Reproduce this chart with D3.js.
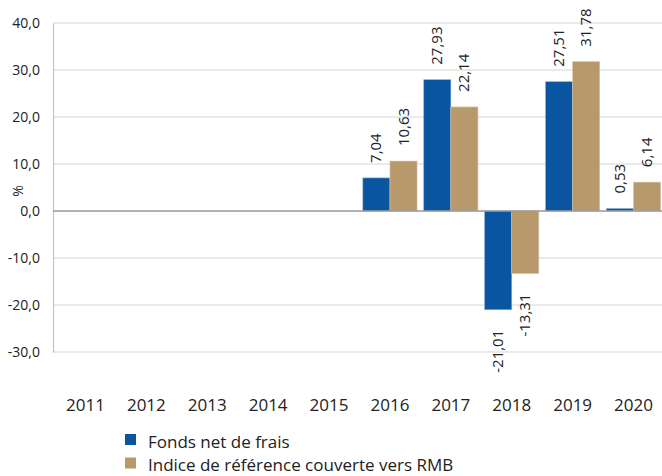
<!DOCTYPE html>
<html>
<head>
<meta charset="utf-8">
<script src="https://cdn.jsdelivr.net/npm/d3@7"></script>
<style>
  body { margin: 0; background: #fff; }
  text { font-family: "Open Sans", sans-serif; fill: #222; }
</style>
</head>
<body>
<div id="chart"></div>
<script>
// donnees
var years = ["2011", "2012", "2013", "2014", "2015", "2016", "2017", "2018", "2019", "2020"];
var seriesNames = ["Fonds net de frais", "Indice de référence couverte vers RMB"];
var fonds = [null, null, null, null, null, 7.04, 27.93, -21.01, 27.51, 0.53];
var indice = [null, null, null, null, null, 10.63, 22.14, -13.31, 31.78, 6.14];
var yTicks = [-30, -20, -10, 0, 10, 20, 30, 40];
var colors = ["#0A559F", "#B8996B"];

var w = 662, h = 476;

var svg = d3.select("#chart").append("svg")
    .attr("width", w)
    .attr("height", h);

var x = d3.scaleBand()
    .domain(years)
    .range([55, 664])
    .paddingInner(0.11)
    .paddingOuter(0.055);

var x1 = d3.scaleBand()
    .domain([0, 1])
    .range([0, x.bandwidth()]);

var y = d3.scaleLinear()
    .domain([-30, 40])
    .range([352, 23]);

// format francais, avec un tiret simple pour le signe moins
var fmt = function(v, dec) {
    return d3.format("." + dec + "f")(v).replace(".", ",").replace("\u2212", "-");
};

// grille
svg.append("g").selectAll("line")
    .data(yTicks.filter(function(d) { return d != 0; }))
    .enter().append("line")
    .attr("x1", 53).attr("x2", w)
    .attr("y1", function(d) { return y(d); })
    .attr("y2", function(d) { return y(d); })
    .attr("stroke", "#e3e3e3")
    .attr("stroke-width", 1.5);

// axe Y
var yAxis = d3.axisLeft(y)
    .tickValues(yTicks)
    .tickSize(0)
    .tickPadding(13)
    .tickFormat(function(d) { return fmt(d, 1); });

var ay = svg.append("g")
    .attr("transform", "translate(53,0)")
    .call(yAxis);
ay.select(".domain").attr("stroke", "#c4c4c4").attr("stroke-width", 1.2);
ay.selectAll("text").style("font-size", "14px").attr("fill", "#333");

svg.append("text")
    .attr("transform", "translate(23,191) rotate(-90)")
    .style("text-anchor", "middle")
    .style("font-size", "14px")
    .attr("fill", "#333")
    .text("%");

// barres
var data = [];
years.forEach(function(yr, i) {
    [fonds[i], indice[i]].forEach(function(v, k) {
        if (v !== null) data.push({year: yr, k: k, v: v});
    });
});

svg.append("g").selectAll("rect")
    .data(data)
    .enter().append("rect")
    .attr("x", function(d) { return x(d.year) + x1(d.k); })
    .attr("width", x1.bandwidth())
    .attr("y", function(d) { return y(Math.max(0, d.v)); })
    .attr("height", function(d) { return Math.abs(y(d.v) - y(0)); })
    .attr("fill", function(d) { return colors[d.k]; })
    .attr("stroke", function(d) { return d.k == 0 ? "#8aaed4" : "#d8c7ad"; })
    .attr("stroke-width", 0.6);

// ligne zero
svg.append("line")
    .attr("x1", 53).attr("x2", w)
    .attr("y1", y(0)).attr("y2", y(0))
    .attr("stroke", "#999")
    .attr("stroke-width", 1.5);

// etiquettes de valeurs
svg.append("g").selectAll("text")
    .data(data)
    .enter().append("text")
    .attr("transform", function(d) {
        var cx = x(d.year) + x1(d.k) + x1.bandwidth() / 2 + 5;
        var cy = d.v >= 0 ? y(d.v) - 15 : y(d.v) + 20;
        return "translate(" + cx + "," + cy + ") rotate(-90)";
    })
    .style("text-anchor", function(d) { return d.v >= 0 ? "start" : "end"; })
    .style("font-size", "15px")
    .attr("fill", "#222")
    .text(function(d) { return fmt(d.v, 2); });

// axe X (etiquettes)
var xAxis = d3.axisBottom(x).tickSize(0).tickPadding(0);
var ax = svg.append("g")
    .attr("transform", "translate(0,398)")
    .call(xAxis);
ax.select(".domain").remove();
ax.selectAll("text").style("font-size", "17px").attr("fill", "#222").attr("dy", "0.75em");

// legende
var leg = svg.append("g").selectAll("g")
    .data(seriesNames)
    .enter().append("g")
    .attr("transform", function(d, i) { return "translate(125," + (434 + i * 23.5) + ")"; });

leg.append("rect")
    .attr("width", 11).attr("height", 11)
    .attr("fill", function(d, i) { return colors[i]; });

leg.append("text")
    .attr("x", 23)
    .attr("y", 13.5)
    .style("font-size", "17px")
    .attr("fill", "#222")
    .text(function(d) { return d; });
</script>
</body>
</html>
